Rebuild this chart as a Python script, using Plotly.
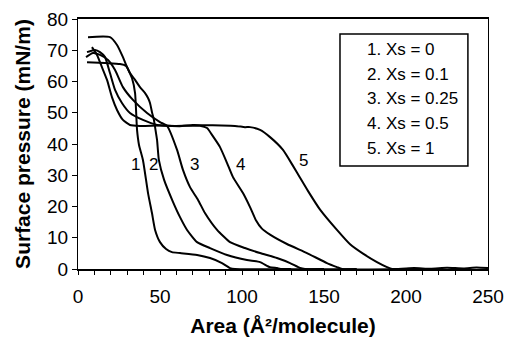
import plotly.graph_objects as go

# Surface pressure isotherms (Area in Å²/molecule, pressure in mN/m)
x1 = [6.1, 19.5, 23.8, 27.4, 29.9, 32.9, 34.8, 36.0, 37.2, 39.6, 42.7, 45.1, 47.0, 50.0, 53.7, 57.3, 62.2, 72.6, 80.5, 87.8, 92.7, 95.7, 130]
y1 = [74.2, 74.2, 71.7, 67.8, 64.6, 61.1, 56.3, 44.5, 39.7, 34.9, 24.3, 17.9, 12.5, 8.6, 6.4, 5.4, 5.1, 4.5, 3.5, 1.9, 0.3, 0.0, 0.0]

x2 = [5.5, 16.5, 25.6, 29.3, 31.7, 34.8, 37.8, 40.9, 42.7, 43.9, 45.1, 46.3, 47.0, 48.2, 49.3, 52.5, 57.9, 62.2, 66.5, 72.6, 80.5, 90.9, 103.0, 111.0, 117.0, 121.3, 124.4, 150]
y2 = [66.2, 65.9, 65.6, 65.0, 62.7, 60.5, 58.2, 56.3, 54.7, 53.1, 50.2, 47.7, 45.4, 41.3, 34.9, 28.5, 21.5, 16.6, 12.5, 8.6, 6.7, 4.5, 2.9, 2.2, 0.6, 0.3, 0.0, 0.0]

x3 = [4.9, 9.1, 13.4, 18.3, 22.6, 27.4, 33.5, 42.1, 50.0, 54.3, 60.4, 64.0, 68.3, 73.2, 77.4, 84.8, 92.7, 101.8, 111.0, 121.3, 129.3, 135.4, 138.4, 170]
y3 = [67.8, 69.1, 68.5, 66.9, 63.7, 58.2, 54.1, 49.9, 47.0, 45.8, 38.1, 31.7, 26.2, 22.1, 17.9, 12.5, 8.6, 6.7, 5.1, 3.5, 1.9, 0.3, 0.0, 0.0]

x4 = [5.5, 10.4, 13.4, 16.5, 19.5, 22.6, 26.8, 31.7, 39.6, 48.2, 59.1, 74.4, 78.7, 81.7, 86.6, 90.9, 94.5, 100.6, 104.9, 108.5, 112.0, 117.1, 127.4, 139.6, 151.8, 157.9, 161.0, 200]
y4 = [69.4, 70.1, 69.4, 67.8, 62.7, 57.3, 53.1, 49.9, 47.7, 46.1, 45.8, 45.8, 45.1, 42.9, 39.0, 33.9, 29.4, 24.3, 19.8, 15.6, 13.0, 11.0, 8.0, 5.1, 1.9, 0.6, 0.0, 0.0]

x5 = [8.5, 11.6, 14.6, 17.7, 20.7, 23.8, 27.4, 31.7, 37.8, 50.0, 62.0, 70.0, 80.0, 95.7, 101.8, 104.9, 111.0, 117.1, 125.0, 131.1, 135.4, 140.2, 147.6, 157.9, 165.9, 173.8, 182.3, 188.4, 191.5, 205, 215, 225, 235, 243, 250]
y5 = [71.0, 68.5, 64.6, 60.5, 55.0, 50.9, 47.7, 46.1, 45.8, 45.9, 45.7, 46.1, 46.0, 45.8, 45.4, 45.4, 44.5, 42.2, 38.1, 33.0, 29.2, 25.0, 19.0, 12.5, 7.9, 4.9, 2.2, 0.6, 0.0, 0.3, 0.1, 0.4, 0.2, 0.5, 0.3]

series_x = [x1, x2, x3, x4, x5]
series_y = [y1, y2, y3, y4, y5]
curve_labels = ["1", "2", "3", "4", "5"]
label_x = [34.8, 46.3, 71.3, 98.8, 137.8]
label_y = [33.3, 33.3, 33.3, 33.3, 34.6]
legend_lines = ["1. Xs = 0", "2. Xs = 0.1", "3. Xs = 0.25", "4. Xs = 0.5", "5. Xs = 1"]

FONT = "Arial, Liberation Sans, sans-serif"

fig = go.Figure()
for xs, ys, nm in zip(series_x, series_y, legend_lines):
    fig.add_trace(go.Scatter(x=xs, y=ys, mode="lines", name=nm,
                             line=dict(color="black", width=2, shape="spline", smoothing=0.5),
                             showlegend=False))

for t, lx, ly in zip(curve_labels, label_x, label_y):
    fig.add_annotation(x=lx, y=ly, text=t, showarrow=False, xref="x", yref="y",
                       font=dict(family=FONT, size=17, color="black"))

# legend box
fig.add_shape(type="rect", xref="paper", yref="paper", x0=0.639, x1=0.951, y0=0.412, y1=0.94,
              line=dict(color="black", width=1.5), fillcolor="white")
leg_y = [0.88, 0.78, 0.68, 0.584, 0.484]
for t, ly in zip(legend_lines, leg_y):
    fig.add_annotation(x=0.70, y=ly, xref="paper", yref="paper", text=t, showarrow=False,
                       xanchor="left", yanchor="middle",
                       font=dict(family=FONT, size=17, color="black"))

fig.update_layout(
    width=512, height=337,
    margin=dict(l=78, r=24, t=19, b=68),
    paper_bgcolor="white", plot_bgcolor="white",
    font=dict(family=FONT, color="black"),
    xaxis=dict(range=[0, 250], dtick=50, tick0=0, showgrid=False, zeroline=False,
               showline=True, linecolor="black", linewidth=1.5, mirror=True,
               ticks="outside", ticklen=4, tickcolor="black", automargin=False,
               minor=dict(dtick=10, ticks="outside", ticklen=4, tickcolor="black", showgrid=False),
               tickfont=dict(family=FONT, size=19, color="black"), ticklabelstandoff=5,
               title=dict(text="<b>Area (Å²/molecule)</b>", font=dict(family=FONT, size=21, color="black"), standoff=14)),
    yaxis=dict(range=[0, 80], dtick=10, tick0=0, showgrid=False, zeroline=False,
               showline=True, linecolor="black", linewidth=1, mirror=True,
               ticks="outside", ticklen=5, tickcolor="black", automargin=False,
               tickfont=dict(family=FONT, size=19, color="black"),
               title=dict(text="<b>Surface pressure (mN/m)</b>", font=dict(family=FONT, size=21, color="black"), standoff=10)),
)

fig.write_html("out.html")
